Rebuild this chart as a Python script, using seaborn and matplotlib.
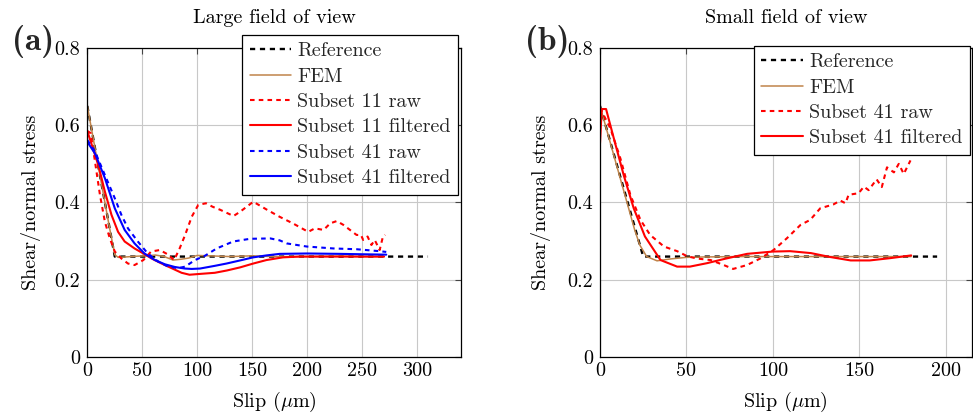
import numpy as np
import pandas as pd
import matplotlib
matplotlib.use("Agg")
import matplotlib.pyplot as plt
import seaborn as sns
from matplotlib.lines import Line2D

sns.set_theme(style="whitegrid")
plt.rcParams["font.family"] = ["cmr10", "DejaVu Serif"]
plt.rcParams["mathtext.fontset"] = "cm"
plt.rcParams["axes.formatter.use_mathtext"] = True

# ---------------- data: panel (a) large field of view ----------------
ref_x_a = [0, 25, 310]
ref_y_a = [0.65, 0.26, 0.26]
fem_x_a = [0, 5, 10, 15, 20, 25, 28, 35, 45, 55, 62, 70, 78, 85, 92, 100, 110, 130, 150, 170, 200, 230, 250, 270]
fem_y_a = [0.65, 0.572, 0.494, 0.416, 0.338, 0.265, 0.258, 0.259, 0.261, 0.262, 0.264, 0.26, 0.251, 0.253,
           0.256, 0.263, 0.262, 0.26, 0.262, 0.26, 0.26, 0.261, 0.26, 0.26]
s11raw_x_a = [0, 3, 7, 11.5, 16, 20.5, 25, 31, 37, 43, 51, 58, 66, 73, 79, 84, 89, 95, 101, 108, 114, 121,
              133, 139, 151, 163, 175, 187, 201, 207, 215, 221, 227, 233, 239, 245, 249, 251, 255, 258.5,
              261.5, 266, 269, 271]
s11raw_y_a = [0.585, 0.58, 0.506, 0.42, 0.35, 0.307, 0.273, 0.255, 0.242, 0.238, 0.251, 0.273, 0.277, 0.266,
              0.251, 0.281, 0.316, 0.363, 0.394, 0.398, 0.389, 0.381, 0.365, 0.376, 0.402, 0.382, 0.363, 0.346,
              0.324, 0.333, 0.329, 0.346, 0.352, 0.342, 0.329, 0.316, 0.316, 0.303, 0.312, 0.29, 0.303, 0.277,
              0.312, 0.316]
s11filt_x_a = [0, 4, 10, 16, 22, 28, 34, 43, 51, 58.5, 67.6, 76.7, 85.8, 93, 102, 116, 127, 139, 151, 163,
               178, 193, 210, 230, 250, 270]
s11filt_y_a = [0.585, 0.55, 0.497, 0.428, 0.368, 0.324, 0.299, 0.281, 0.268, 0.255, 0.242, 0.23, 0.218,
               0.213, 0.215, 0.218, 0.224, 0.232, 0.242, 0.251, 0.258, 0.26, 0.26, 0.26, 0.26, 0.26]
s41raw_x_a = [0, 7, 16, 25, 31, 37, 46, 55, 64.5, 73.6, 82.7, 89, 98, 107, 117.7, 132.7, 148, 166.5, 175,
              181.6, 199.7, 224, 245, 266, 272]
s41raw_y_a = [0.562, 0.532, 0.471, 0.411, 0.368, 0.333, 0.299, 0.268, 0.247, 0.234, 0.23, 0.234, 0.251,
              0.262, 0.281, 0.299, 0.306, 0.307, 0.302, 0.294, 0.286, 0.281, 0.279, 0.274, 0.272]
s41filt_x_a = [0, 7, 16, 25, 34, 43, 52, 61.5, 70.6, 79.7, 88.8, 95, 102.5, 116, 126.7, 139, 151, 163, 175,
               200, 230, 250, 272]
s41filt_y_a = [0.557, 0.527, 0.463, 0.385, 0.329, 0.294, 0.268, 0.251, 0.24, 0.233, 0.229, 0.228, 0.229,
               0.236, 0.242, 0.25, 0.258, 0.263, 0.267, 0.268, 0.267, 0.266, 0.265]

# ---------------- data: panel (b) small field of view ----------------
ref_x_b = [0, 25, 195]
ref_y_b = [0.65, 0.26, 0.26]
fem_x_b = [0, 5, 10, 15, 20, 23, 27, 33, 41, 50, 60, 80, 100, 120, 140, 160, 180]
fem_y_b = [0.65, 0.57, 0.49, 0.41, 0.33, 0.29, 0.26, 0.249, 0.254, 0.258, 0.259, 0.26, 0.26, 0.26, 0.26,
           0.26, 0.26]
s41raw_x_b = [0, 6, 11.8, 17.6, 23.4, 29, 37, 44.6, 50.4, 56, 64, 71.6, 77, 85, 92.7, 100.4, 108, 116,
              121.6, 127.4, 135, 139, 142, 143.8, 149.6, 152.6, 155.4, 160, 163, 166, 170, 172.8, 175.7, 179.6]
s41raw_y_b = [0.645, 0.592, 0.514, 0.419, 0.355, 0.316, 0.286, 0.274, 0.261, 0.255, 0.251, 0.238, 0.228,
              0.238, 0.255, 0.277, 0.307, 0.342, 0.355, 0.385, 0.395, 0.405, 0.398, 0.42, 0.424, 0.441, 0.432,
              0.46, 0.44, 0.491, 0.478, 0.5, 0.474, 0.509]
s41filt_x_b = [0, 1, 3.5, 8, 13.7, 19.5, 26, 35, 44.6, 52, 62, 72, 85, 100, 110, 122, 133, 145, 156, 168, 180]
s41filt_y_b = [0.553, 0.642, 0.642, 0.566, 0.471, 0.385, 0.312, 0.251, 0.234, 0.234, 0.243, 0.254, 0.267,
               0.273, 0.274, 0.269, 0.259, 0.25, 0.25, 0.256, 0.263]

x_ticks_a = [0, 50, 100, 150, 200, 250, 300]
x_ticks_b = [0, 50, 100, 150, 200]
y_ticks = [0, 0.2, 0.4, 0.6, 0.8]
y_ticklabels = ["0", "0.2", "0.4", "0.6", "0.8"]

RED = "#ff0000"
BLUE = "#0000ff"
FEM_C = "#c0844a"
BLACK = "#000000"
DASH = (2.2, 2.0)
FS = 14.5

fig = plt.figure(figsize=(9.73, 4.15), dpi=100)
axA = fig.add_axes([87.3 / 973, 58 / 415, 373.7 / 973, 309 / 415])
axB = fig.add_axes([600 / 973, 58 / 415, 371.7 / 973, 309 / 415])


def draw(ax, series):
    handles = []
    for label, xs, ys, color, lw, dashed in series:
        df = pd.DataFrame({"x": xs, "y": ys})
        sns.lineplot(data=df, x="x", y="y", ax=ax, color=color, lw=lw, estimator=None, sort=False,
                     legend=False)
        line = ax.get_lines()[-1]
        if dashed:
            line.set_dashes(DASH)
        h = Line2D([], [], color=color, lw=lw)
        if dashed:
            h.set_dashes(DASH)
        handles.append((h, label))
    return handles


series_a = [
    ("Reference", ref_x_a, ref_y_a, BLACK, 1.7, True),
    ("FEM", fem_x_a, fem_y_a, FEM_C, 1.1, False),
    ("Subset 11 raw", s11raw_x_a, s11raw_y_a, RED, 1.5, True),
    ("Subset 11 filtered", s11filt_x_a, s11filt_y_a, RED, 1.5, False),
    ("Subset 41 raw", s41raw_x_a, s41raw_y_a, BLUE, 1.5, True),
    ("Subset 41 filtered", s41filt_x_a, s41filt_y_a, BLUE, 1.5, False),
]
series_b = [
    ("Reference", ref_x_b, ref_y_b, BLACK, 1.7, True),
    ("FEM", fem_x_b, fem_y_b, FEM_C, 1.1, False),
    ("Subset 41 raw", s41raw_x_b, s41raw_y_b, RED, 1.5, True),
    ("Subset 41 filtered", s41filt_x_b, s41filt_y_b, RED, 1.5, False),
]

hA = draw(axA, series_a)
hB = draw(axB, series_b)

for ax, xlim, xt, title in [(axA, (0, 340), x_ticks_a, "Large field of view"),
                            (axB, (0, 215), x_ticks_b, "Small field of view")]:
    ax.set_xlim(*xlim)
    ax.set_ylim(0, 0.8)
    ax.set_xticks(xt)
    ax.set_xticklabels([str(t) for t in xt])
    ax.set_yticks(y_ticks)
    ax.set_yticklabels(y_ticklabels)
    ax.set_facecolor("white")
    ax.grid(True, color="#c8c8c8", lw=0.8)
    for s in ax.spines.values():
        s.set_visible(True)
        s.set_color("black")
        s.set_linewidth(0.9)
    ax.tick_params(direction="in", length=4, width=0.8, color="#444444", top=True, right=True,
                   labelsize=FS, pad=5, labelcolor="black")
    ax.tick_params(axis="x", pad=4)
    ax.set_xlabel(r"Slip ($\mu$m)", fontsize=FS, color="black")
    ax.set_ylabel("Shear/normal stress", fontsize=FS, color="black")
    ax.xaxis.set_label_coords(0.5, -0.108)
    ax.set_title(title, fontsize=FS, pad=18, color="black")

axA.yaxis.set_label_coords(-0.125, 0.5)
axB.yaxis.set_label_coords(-0.133, 0.5)

leg_kw = dict(loc="upper right", fontsize=FS, frameon=True, fancybox=False, edgecolor="black",
              framealpha=1, handlelength=2.07, handletextpad=0.3, labelspacing=0.36,
              borderpad=0.37, borderaxespad=0)
legA = axA.legend([h for h, _ in hA], [l for _, l in hA], bbox_to_anchor=(0.9925, 1.0425), **leg_kw)
legA.get_frame().set_linewidth(0.9)
legB = axB.legend([h for h, _ in hB], [l for _, l in hB], bbox_to_anchor=(0.9955, 1.0074), **leg_kw)
legB.get_frame().set_linewidth(0.9)

fig.text(12 / 973, 1 - 50 / 415, "(a)", fontsize=24, fontfamily="cmb10", fontweight="bold", va="baseline")
fig.text(525 / 973, 1 - 50 / 415, "(b)", fontsize=24, fontfamily="cmb10", fontweight="bold", va="baseline")

fig.savefig("out.png", dpi=100)
